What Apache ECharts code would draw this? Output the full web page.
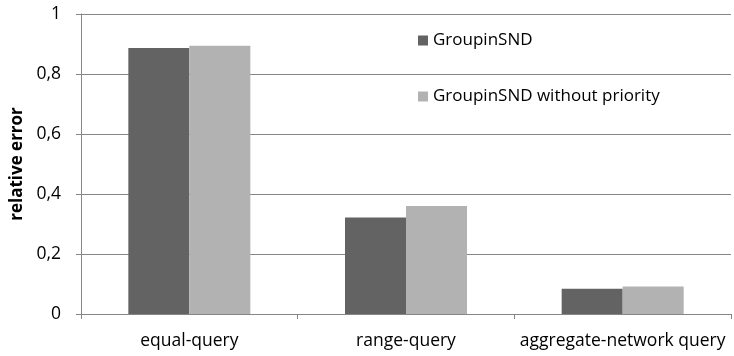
<!DOCTYPE html>
<html><head><meta charset="utf-8">
<script src="https://cdn.jsdelivr.net/npm/echarts@6/dist/echarts.min.js"></script>
<style>html,body{margin:0;padding:0;background:#fff}#c{width:734px;height:356px}</style>
</head><body><div id="c"></div>
<script>
const categories = ['equal-query', 'range-query', 'aggregate-network query'];
const seriesNames = ['GroupinSND', 'GroupinSND without priority'];
const groupinSND = [0.887, 0.322, 0.084];
const withoutPriority = [0.894, 0.360, 0.092];
const yTicks = [0, 0.2, 0.4, 0.6, 0.8, 1];

const font = 'Open Sans';
const chart = echarts.init(document.getElementById('c'));
chart.setOption({
  animation: false,
  backgroundColor: '#fff',
  grid: { left: 81, right: 3, top: 14, bottom: 42 },
  legend: {
    orient: 'vertical', left: 413, top: 27, itemGap: 39,
    itemWidth: 10, itemHeight: 10, icon: 'rect',
    textStyle: { fontFamily: font, fontSize: 17, color: '#000' },
    data: seriesNames
  },
  xAxis: {
    type: 'category', data: categories,
    axisLine: { lineStyle: { color: '#868686', width: 1 } },
    axisTick: { show: true, length: 5, lineStyle: { color: '#868686' } },
    axisLabel: { fontFamily: font, fontSize: 17.5, color: '#000', margin: 18, interval: 0 }
  },
  yAxis: {
    type: 'value', min: 0, max: 1, interval: 0.2,
    name: 'relative error', nameLocation: 'middle', nameRotate: 90, nameGap: 47,
    nameTextStyle: { fontFamily: font, fontSize: 17, fontWeight: 'bold', color: '#000' },
    axisLine: { show: true, lineStyle: { color: '#868686' } },
    axisTick: { show: true, length: 5, lineStyle: { color: '#868686' } },
    splitLine: { lineStyle: { color: '#868686' } },
    axisLabel: {
      fontFamily: font, fontSize: 17.5, color: '#000', margin: 20,
      formatter: v => {
        const t = yTicks.find(x => Math.abs(x - v) < 1e-9);
        return (t === undefined ? v : t).toString().replace('.', ',');
      }
    }
  },
  series: [
    { name: seriesNames[0], type: 'bar', data: groupinSND, barWidth: 61, barGap: '0%',
      itemStyle: { color: '#636363' } },
    { name: seriesNames[1], type: 'bar', data: withoutPriority, barWidth: 61, barGap: '0%',
      itemStyle: { color: '#b2b2b2' } }
  ]
});
</script></body></html>
